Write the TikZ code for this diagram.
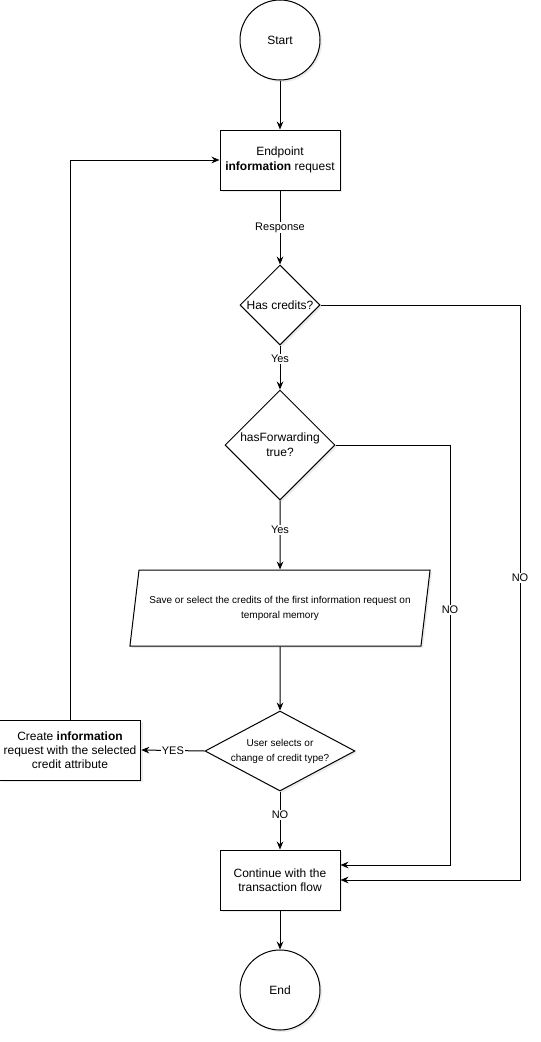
\documentclass[tikz,border=0pt]{standalone}
\usepackage{fontspec}
\setmainfont{Liberation Sans}
\usetikzlibrary{arrows.meta,positioning,shapes.geometric,shadows}
\tikzset{
shadowed/.style={drop shadow={shadow xshift=1.5pt,shadow yshift=-1.5pt,opacity=0.12,fill=black!60}},
box/.style={draw,rectangle,fill=white,shadowed,line width=0.75pt,align=center,font=\fontsize{9}{10.8}\selectfont},
terminal/.style={draw,circle,fill=white,shadowed,line width=0.75pt,minimum size=60pt,inner sep=0pt,font=\fontsize{9}{10.8}\selectfont},
decision/.style={draw,diamond,fill=white,shadowed,line width=0.75pt,inner sep=0pt},
iobox/.style={draw,trapezium,trapezium left angle=75.3,trapezium right angle=104.7,trapezium stretches=true,fill=white,shadowed,line width=0.75pt,align=center,font=\fontsize{7.5}{11.25}\selectfont},
arr/.style={->,>={Stealth[length=6pt,width=5pt,inset=2pt]},line width=0.75pt},
lbl/.style={fill=white,inner sep=0.8pt,font=\fontsize{8.25}{9}\selectfont},
}

\begin{document}
\begin{tikzpicture}[x=0.75pt,y=-0.75pt]
    \useasboundingbox (0,0) rectangle (541,1042);

    \node[terminal] (start) at (280,40) {Start};
    \node[box,minimum width=90pt,minimum height=45pt] (endpoint) at (280,160)
        {Endpoint\\\textbf{information} request};
    \node[decision,minimum width=60pt,minimum height=60pt,
        label={[font=\fontsize{9}{10.8}\selectfont]center:Has credits?}] (hascred) at (280,305) {};
    \node[decision,minimum width=82.5pt,minimum height=82.5pt,
        label={[align=center,font=\fontsize{9}{11.25}\selectfont]center:hasForwarding\\true?}] (hasfwd) at (280,445) {};
    \node[iobox,minimum width=225.75pt,minimum height=57pt] (save) at (280,608)
        {Save or select the credits of the first information request on\\temporal memory};
    \node[decision,minimum width=112.5pt,minimum height=60pt,
        label={[align=center,font=\fontsize{7.5}{11.25}\selectfont]center:User selects or\\change of credit type?}] (usersel) at (280,751) {};
    \node[box,minimum width=105pt,minimum height=45pt,font=\fontsize{9}{10.5}\selectfont] (create) at (70,750)
        {Create \textbf{information}\\request with the selected\\credit attribute};
    \node[box,minimum width=90pt,minimum height=45pt] (cont) at (280,880)
        {Continue with the\\transaction flow};
    \node[terminal] (endnode) at (280,990) {End};

    \coordinate (fwdno) at (450,865);
    \coordinate (credno) at (520,880);

    % main line
    \draw[arr] (start) -- (endpoint);
    \draw[arr] (endpoint) -- (hascred) node[lbl,midway] {Response};
    \draw[arr] (hascred) -- (hasfwd) node[lbl,pos=0.3] {Yes};
    \draw[arr] (hasfwd) -- (save) node[lbl,pos=0.43] {Yes};
    \draw[arr] (save) -- (usersel);
    \draw[arr] (usersel) -- (cont) node[lbl,pos=0.4] {NO};
    \draw[arr] (cont) -- (endnode);

    % loop back
    \draw[arr] (usersel.west) -- (create.east) node[lbl,midway] {YES};
    \draw[arr] (create.north) |- (endpoint.west);

    % NO branches
    \draw[arr] (hasfwd.east) -| (fwdno) node[lbl,pos=0.696] {NO} -- (fwdno -| cont.east);
    \draw[arr] (hascred.east) -| (credno) node[lbl,pos=0.737] {NO} -- (cont.east);
\end{tikzpicture}
\end{document}
